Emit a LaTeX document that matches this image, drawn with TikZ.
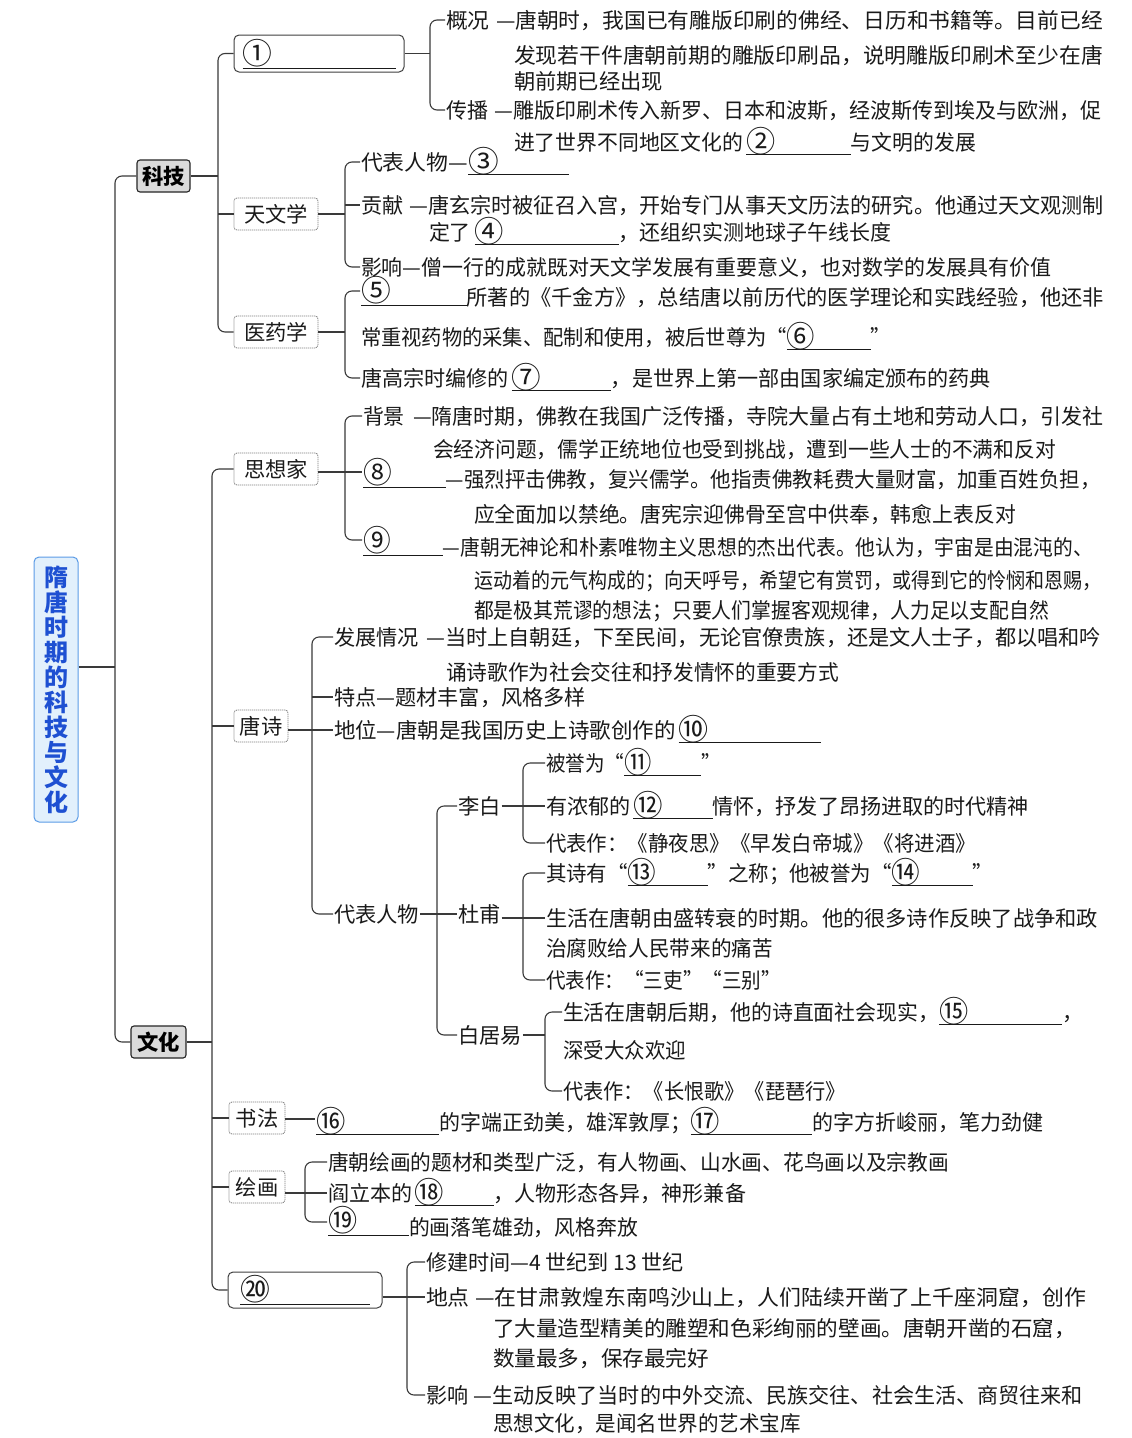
\documentclass[tikz,border=0pt]{standalone}
\usepackage{fontspec}
\usepackage{graphicx}
\setmainfont{Noto Sans CJK SC}
\definecolor{rootblue}{HTML}{1E50D2}
\definecolor{rootfill}{HTML}{E2F0FC}
\definecolor{rootdraw}{HTML}{5B9BE6}
\definecolor{ink}{HTML}{1A1A1A}
\definecolor{linec}{HTML}{3A3A3A}
\newcommand\fsz{\fontsize{21.3}{26}\selectfont}
\newcommand\jl[2]{\resizebox{#1}{\height}{#2}}
\newcommand\cnum[1]{\raisebox{-2.5pt}{\scalebox{1.4}{#1}}}
\newcommand\fillin[2]{\rlap{\raisebox{-5pt}[0pt][0pt]{\rule{#2}{0.9pt}}}\makebox[#2][l]{\cnum{#1}}}
\newcommand\fillup[2]{\rlap{\raisebox{-1pt}[0pt][0pt]{\rule{#2}{0.9pt}}}\makebox[#2][l]{\raisebox{6pt}{\cnum{#1}}}}
\newcommand\labx[2]{\makebox[#1]{#2\hfill—}}
\begin{document}
\begin{tikzpicture}[x=1pt,y=-1pt,
  conn/.style={draw=linec, line width=1.1pt},
  rc/.style={rounded corners=7pt},
  tx/.style={anchor=west, inner sep=0pt, outer sep=1pt, text height=18pt, text depth=2pt, font=\fsz, text=ink},
  catbox/.style={draw=black!85, fill=black!14, rounded corners=3pt, line width=1.1pt, font=\fsz\bfseries, inner sep=0pt, minimum height=32pt, text=black},
  subbox/.style={draw=black!50, dash pattern=on 1.2pt off 0.8pt, rounded corners=3pt, line width=0.8pt, inner sep=0pt, minimum height=32pt, font=\fsz, text=ink, fill=white},
  blankbox/.style={draw=black!75, rounded corners=5pt, line width=1pt, inner sep=0pt, fill=white, font=\fsz, text=ink},
]
\useasboundingbox (0,0) rectangle (1132,1438);
\fill[white] (0,0) rectangle (1132,1438);

% ---------- boxes ----------
\node[draw=rootdraw, fill=rootfill, line width=1pt, rounded corners=5pt, minimum width=44pt, minimum height=265pt, inner sep=0pt, align=center, text=rootblue, font=\fontsize{24}{25}\selectfont\bfseries] (root) at (56,689.5) {隋\\唐\\时\\期\\的\\科\\技\\与\\文\\化};
\node[catbox, minimum width=53pt] (keji) at (163.5,176) {科技};
\node[catbox, minimum width=55pt] (wenhua) at (158.5,1042) {文化};
\node[blankbox, minimum width=170pt, minimum height=37pt] (yinshua) at (319,53.5) {\fillup{①}{153pt}};
\node[subbox, minimum width=84pt] (tianwen) at (276,214) {天文学};
\node[subbox, minimum width=84pt] (yiyao) at (276,332) {医药学};
\node[subbox, minimum width=84pt] (sixiang) at (276,469) {思想家};
\node[subbox, minimum width=54pt] (tangshi) at (261,726) {唐诗};
\node[subbox, minimum width=56pt] (shufa) at (257,1118) {书法};
\node[subbox, minimum width=56pt] (huihua) at (257,1187) {绘画};
\node[blankbox, minimum width=154pt, minimum height=36pt] (dunhuang) at (305,1290) {\fillup{⑳}{130pt}};

% ---------- texts: printing ----------
\node[tx] (gk1) at (445,20) {\jl{657pt}{\labx{68pt}{概况}唐朝时，我国已有雕版印刷的佛经、日历和书籍等。目前已经}};
\node[tx] (gk2) at (513,55) {\jl{589pt}{发现若干件唐朝前期的雕版印刷品，说明雕版印刷术至少在唐}};
\node[tx] (gk3) at (513,81) {\jl{149pt}{朝前期已经出现}};
\node[tx] (cb1) at (445,110) {\jl{655pt}{\labx{68pt}{传播}雕版印刷术传入新罗、日本和波斯，经波斯传到埃及与欧洲，促}};
\node[tx] (cb2) at (513,142) {\jl{462pt}{进了世界不同地区文化的\hspace{3pt}\fillin{②}{107pt}与文明的发展}};

% ---------- astronomy ----------
\node[tx] (twk1) at (360,162) {\jl{208pt}{代表人物—\fillin{③}{98pt}}};
\node[tx] (twk2) at (360,205) {\jl{743pt}{\labx{68pt}{贡献}唐玄宗时被征召入宫，开始专门从事天文历法的研究。他通过天文观测制}};
\node[tx] (twk3) at (428,232) {\jl{462pt}{定了\hspace{4pt}\fillin{④}{146pt}，还组织实测地球子午线长度}};
\node[tx] (twk4) at (360,267) {\jl{690pt}{影响—僧一行的成就既对天文学发展有重要意义，也对数学的发展具有价值}};

% ---------- medicine ----------
\node[tx] (yy1) at (360,297) {\jl{743pt}{\fillup{⑤}{106pt}所著的《千金方》，总结唐以前历代的医学理论和实践经验，他还非}};
\node[tx] (yy2) at (360,337) {\jl{530pt}{常重视药物的采集、配制和使用，被后世尊为“\fillin{⑥}{88pt}”}};
\node[tx] (yy3) at (360,378) {\jl{630pt}{唐高宗时编修的\hspace{3pt}\fillin{⑦}{100pt}，是世界上第一部由国家编定颁布的药典}};

% ---------- thinkers ----------
\node[tx] (sx1) at (362,416) {\jl{740pt}{\labx{70pt}{背景}隋唐时期，佛教在我国广泛传播，寺院大量占有土地和劳动人口，引发社}};
\node[tx] (sx2) at (432,449) {\jl{623pt}{会经济问题，儒学正统地位也受到挑战，遭到一些人士的不满和反对}};
\node[tx] (sx3) at (362,479) {\jl{738pt}{\fillup{⑧}{86pt}—强烈抨击佛教，复兴儒学。他指责佛教耗费大量财富，加重百姓负担，}};
\node[tx] (sx4) at (473,514) {\jl{542pt}{应全面加以禁绝。唐宪宗迎佛骨至宫中供奉，韩愈上表反对}};
\node[tx] (sx5) at (362,547) {\jl{730pt}{\fillup{⑨}{86pt}—唐朝无神论和朴素唯物主义思想的杰出代表。他认为，宇宙是由混沌的、}};
\node[tx] (sx6) at (473,580) {\jl{627pt}{运动着的元气构成的；向天呼号，希望它有赏罚，或得到它的怜悯和恩赐，}};
\node[tx] (sx7) at (473,610) {\jl{575pt}{都是极其荒谬的想法；只要人们掌握客观规律，人力足以支配自然}};

% ---------- Tang poetry ----------
\node[tx] (ts1) at (333,637) {\jl{767pt}{\labx{112pt}{发展情况}当时上自朝廷，下至民间，无论官僚贵族，还是文人士子，都以唱和吟}};
\node[tx] (ts2) at (445,672) {\jl{393pt}{诵诗歌作为社会交往和抒发情怀的重要方式}};
\node[tx] (ts3) at (333,697) {\jl{252pt}{特点—题材丰富，风格多样}};
\node[tx] (ts4) at (333,730) {\jl{487pt}{地位—唐朝是我国历史上诗歌创作的\hspace{3pt}\fillin{⑩}{141pt}}};
\node[tx] (ts5) at (333,914) {代表人物};

\node[tx] (lb) at (457,806) {李白};
\node[tx] (lb1) at (545,763) {\jl{175pt}{被誉为“\fillin{⑪}{84pt}”}};
\node[tx] (lb2) at (545,806) {\jl{483pt}{有浓郁的\hspace{3pt}\fillin{⑫}{80pt}情怀，抒发了昂扬进取的时代精神}};
\node[tx] (lb3) at (545,843) {\jl{430pt}{代表作：《静夜思》《早发白帝城》《将进酒》}};

\node[tx] (df) at (457,914) {杜甫};
\node[tx] (df1) at (545,873) {\jl{447pt}{其诗有“\fillin{⑬}{83pt}”之称；他被誉为“\fillin{⑭}{84pt}”}};
\node[tx] (df2) at (545,918) {\jl{552pt}{生活在唐朝由盛转衰的时期。他的很多诗作反映了战争和政}};
\node[tx] (df3) at (545,948) {\jl{227pt}{治腐败给人民带来的痛苦}};
\node[tx] (df4) at (545,980) {\jl{235pt}{代表作：“三吏”“三别”}};

\node[tx] (bj) at (457,1035) {白居易};
\node[tx] (bj1) at (562,1012) {\jl{520pt}{生活在唐朝后期，他的诗直面社会现实，\fillin{⑮}{125pt}，}};
\node[tx] (bj2) at (562,1050) {\jl{123pt}{深受大众欢迎}};
\node[tx] (bj3) at (562,1091) {\jl{283pt}{代表作：《长恨歌》《琵琶行》}};

% ---------- calligraphy / painting ----------
\node[tx] (sf1) at (315,1122) {\jl{727pt}{\fillin{⑯}{125pt}的字端正劲美，雄浑敦厚；\fillin{⑰}{123pt}的字方折峻丽，笔力劲健}};
\node[tx] (hh1) at (327,1162) {\jl{621pt}{唐朝绘画的题材和类型广泛，有人物画、山水画、花鸟画以及宗教画}};
\node[tx] (hh2) at (327,1193) {\jl{418pt}{阎立本的\hspace{3pt}\fillin{⑱}{80pt}，人物形态各异，神形兼备}};
\node[tx] (hh3) at (327,1227) {\jl{310pt}{\fillup{⑲}{83pt}的画落笔雄劲，风格奔放}};

% ---------- Dunhuang ----------
\node[tx] (dh1) at (425,1262) {\jl{258pt}{修建时间—4 世纪到 13 世纪}};
\node[tx] (dh2) at (425,1297) {\jl{660pt}{\labx{67pt}{地点}在甘肃敦煌东南鸣沙山上，人们陆续开凿了上千座洞窟，创作}};
\node[tx] (dh3) at (492,1328) {\jl{583pt}{了大量造型精美的雕塑和色彩绚丽的壁画。唐朝开凿的石窟，}};
\node[tx] (dh4) at (492,1358) {\jl{216pt}{数量最多，保存最完好}};
\node[tx] (dh5) at (425,1395) {\jl{657pt}{\labx{67pt}{影响}生动反映了当时的中外交流、民族交往、社会生活、商贸往来和}};
\node[tx] (dh6) at (492,1423) {\jl{308pt}{思想文化，是闻名世界的艺术宝库}};

% ---------- bracket x-positions ----------
\coordinate (tj) at (115,667);
\coordinate (kb) at (218,0);
\coordinate (wb) at (212,0);
\coordinate (yb) at (430,0);
\coordinate (tb) at (345,0);
\coordinate (yyb) at (345,0);
\coordinate (sxb) at (345,0);
\coordinate (tsb) at (312,0);
\coordinate (dbb) at (437,0);
\coordinate (lbb) at (523,0);
\coordinate (dfb) at (523,0);
\coordinate (bjb) at (545,0);
\coordinate (hhb) at (305,0);
\coordinate (dhb) at (407,0);
\coordinate (yy1c) at ([yshift=6pt]yy1.west);
\coordinate (sx3c) at ([yshift=7pt]sx3.west);
\coordinate (sx5c) at ([yshift=7pt]sx5.west);
\coordinate (sf1c) at ([yshift=3pt]sf1.west);
\coordinate (hh3c) at ([yshift=5pt]hh3.west);

% ---------- connectors ----------
% root and trunk
\draw[conn] (root.east |- tj) -- (tj);
\draw[conn,rc] (keji.west) -| (tj |- wenhua.west) -- (wenhua.west);
% keji
\draw[conn] (keji.east) -- (keji.east -| kb);
\draw[conn,rc] (yinshua.west) -| (kb |- yiyao.west) -- (yiyao.west);
\draw[conn] (tianwen.west -| kb) -- (tianwen.west);
% printing
\draw[conn] (yinshua.east) -- (yinshua.east -| yb);
\draw[conn,rc] (gk1.west) -| (yb |- cb1.west) -- (cb1.west);
% astronomy
\draw[conn] (tianwen.east) -- (tianwen.east -| tb);
\draw[conn,rc] (twk1.west) -| (tb |- twk4.west) -- (twk4.west);
\draw[conn] (twk2.west -| tb) -- (twk2.west);
% medicine
\draw[conn] (yiyao.east) -- (yiyao.east -| yyb);
\draw[conn,rc] (yy1c) -| (yyb |- yy3.west) -- (yy3.west);
% wenhua
\draw[conn] (wenhua.east) -- (wenhua.east -| wb);
\draw[conn,rc] (sixiang.west) -| (wb |- dunhuang.west) -- (dunhuang.west);
\draw[conn] (tangshi.west -| wb) -- (tangshi.west);
\draw[conn] (shufa.west -| wb) -- (shufa.west);
\draw[conn] (huihua.west -| wb) -- (huihua.west);
% thinkers
\draw[conn] (sixiang.east |- sx3c) -- (sx3c);
\draw[conn,rc] (sx1.west) -| (sxb |- sx5c) -- (sx5c);
% Tang poetry
\draw[conn] (tangshi.east |- ts4.west) -- (ts4.west);
\draw[conn,rc] (ts1.west) -| (tsb |- ts5.west) -- (ts5.west);
\draw[conn] (ts3.west -| tsb) -- (ts3.west);
% representatives
\draw[conn] (ts5.east |- df.west) -- (df.west);
\draw[conn,rc] (lb.west) -| (dbb |- bj.west) -- (bj.west);
% Li Bai
\draw[conn] (lb.east |- lb2.west) -- (lb2.west);
\draw[conn,rc] (lb1.west) -| (lbb |- lb3.west) -- (lb3.west);
% Du Fu
\draw[conn] (df.east |- df2.west) -- (df2.west);
\draw[conn,rc] (df1.west) -| (dfb |- df4.west) -- (df4.west);
% Bai Juyi
\draw[conn] (bj.east) -- (bj.east -| bjb);
\draw[conn,rc] (bj1.west) -| (bjb |- bj3.west) -- (bj3.west);
% calligraphy
\draw[conn] (shufa.east |- sf1c) -- (sf1c);
% painting
\draw[conn] (huihua.east |- hh2.west) -- (hh2.west);
\draw[conn,rc] (hh1.west) -| (hhb |- hh3c) -- (hh3c);
% Dunhuang
\draw[conn] (dunhuang.east |- dh2.west) -- (dh2.west);
\draw[conn,rc] (dh1.west) -| (dhb |- dh5.west) -- (dh5.west);
\end{tikzpicture}
\end{document}
